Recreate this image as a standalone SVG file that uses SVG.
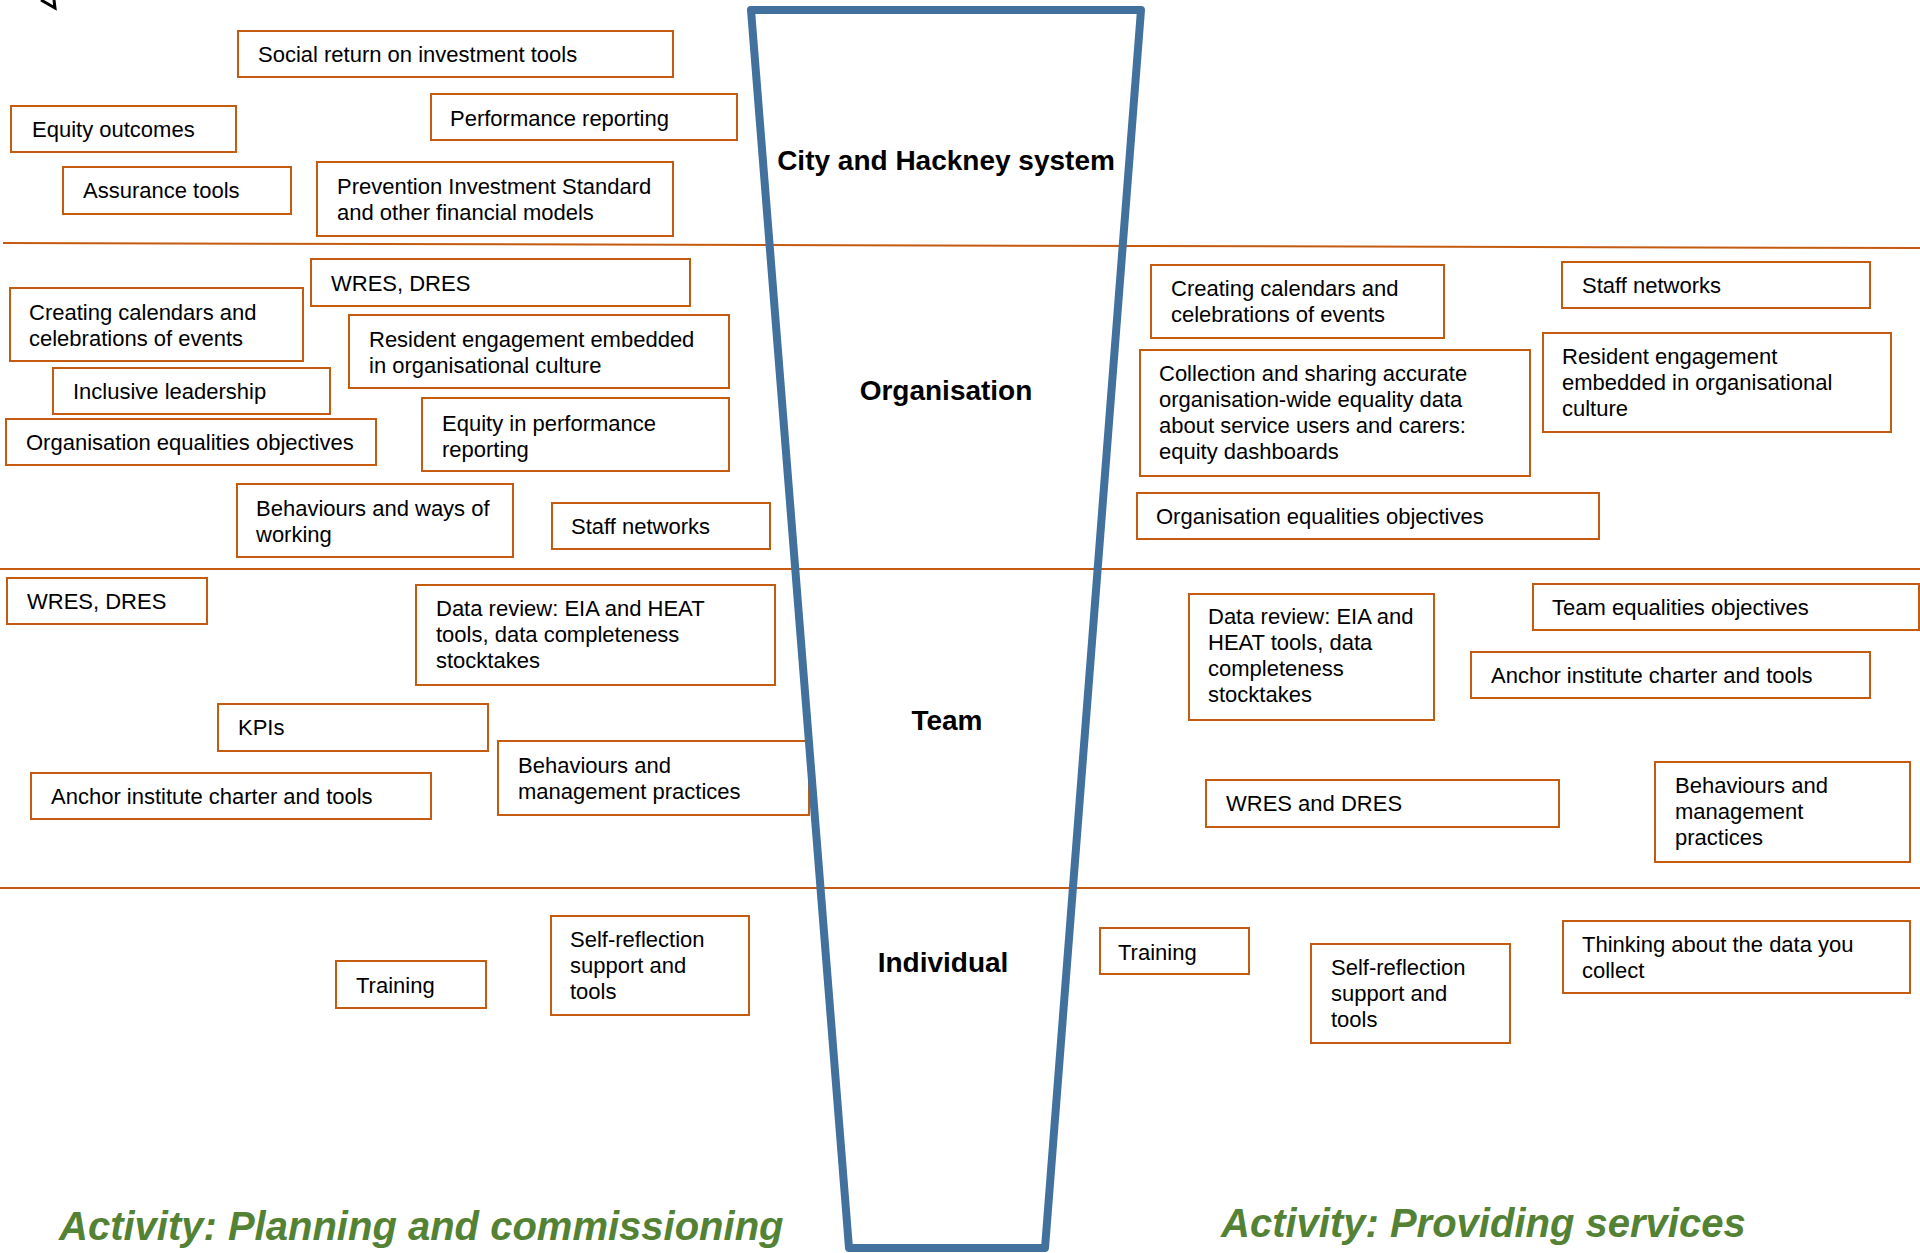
<svg xmlns="http://www.w3.org/2000/svg" width="1920" height="1253" viewBox="0 0 1920 1253">
<style>
.bg{fill:#ffffff}
.box{fill:#ffffff;stroke:#C55A11;stroke-width:2}
.t{font-family:"Liberation Sans",Arial,sans-serif;font-size:22px;fill:#000000}
.lvl{font-family:"Liberation Sans",Arial,sans-serif;font-size:28px;font-weight:bold;fill:#000000;text-anchor:middle}
.act{font-family:"Liberation Sans",Arial,sans-serif;font-size:40px;font-weight:bold;font-style:italic;fill:#548235}
.sep{stroke:#C55A11;stroke-width:2;fill:none}
.funnel{fill:none;stroke:#41719C;stroke-width:8;stroke-linejoin:round}
</style>
<rect class="bg" x="0" y="0" width="1920" height="1253"/>
<path d="M41 0 L55 8 L54 0" fill="none" stroke="#000000" stroke-width="3"/>
<g id="connectors">
<line class="sep" x1="3" y1="243" x2="1920" y2="248"/>
<line class="sep" x1="0" y1="569" x2="1920" y2="569"/>
<line class="sep" x1="0" y1="888" x2="1920" y2="888"/>
</g>
<g id="n1"><rect class="box" x="238" y="31" width="435" height="46"/><text class="t" x="258" y="62">Social return on investment tools</text></g>
<g id="n2"><rect class="box" x="11" y="106" width="225" height="46"/><text class="t" x="32" y="137">Equity outcomes</text></g>
<g id="n3"><rect class="box" x="431" y="94" width="306" height="46"/><text class="t" x="450" y="126">Performance reporting</text></g>
<g id="n4"><rect class="box" x="63" y="167" width="228" height="47"/><text class="t" x="83" y="198">Assurance tools</text></g>
<g id="n5"><rect class="box" x="317" y="162" width="356" height="74"/><text class="t" x="337" y="194">Prevention Investment Standard<tspan x="337" dy="26">and other financial models</tspan></text></g>
<g id="n6"><rect class="box" x="311" y="259" width="379" height="47"/><text class="t" x="331" y="291">WRES, DRES</text></g>
<g id="n7"><rect class="box" x="10" y="288" width="293" height="73"/><text class="t" x="29" y="320">Creating calendars and<tspan x="29" dy="26">celebrations of events</tspan></text></g>
<g id="n8"><rect class="box" x="349" y="315" width="380" height="73"/><text class="t" x="369" y="347">Resident engagement embedded<tspan x="369" dy="26">in organisational culture</tspan></text></g>
<g id="n9"><rect class="box" x="53" y="368" width="277" height="46"/><text class="t" x="73" y="399">Inclusive leadership</text></g>
<g id="n10"><rect class="box" x="6" y="419" width="370" height="46"/><text class="t" x="26" y="450">Organisation equalities objectives</text></g>
<g id="n11"><rect class="box" x="422" y="398" width="307" height="73"/><text class="t" x="442" y="431">Equity in performance<tspan x="442" dy="26">reporting</tspan></text></g>
<g id="n12"><rect class="box" x="237" y="484" width="276" height="73"/><text class="t" x="256" y="516">Behaviours and ways of<tspan x="256" dy="26">working</tspan></text></g>
<g id="n13"><rect class="box" x="552" y="503" width="218" height="46"/><text class="t" x="571" y="534">Staff networks</text></g>
<g id="n14"><rect class="box" x="1151" y="265" width="293" height="73"/><text class="t" x="1171" y="296">Creating calendars and<tspan x="1171" dy="26">celebrations of events</tspan></text></g>
<g id="n15"><rect class="box" x="1562" y="262" width="308" height="46"/><text class="t" x="1582" y="293">Staff networks</text></g>
<g id="n16"><rect class="box" x="1140" y="350" width="390" height="126"/><text class="t" x="1159" y="381">Collection and sharing accurate<tspan x="1159" dy="26">organisation-wide equality data</tspan><tspan x="1159" dy="26">about service users and carers:</tspan><tspan x="1159" dy="26">equity dashboards</tspan></text></g>
<g id="n17"><rect class="box" x="1543" y="333" width="348" height="99"/><text class="t" x="1562" y="364">Resident engagement<tspan x="1562" dy="26">embedded in organisational</tspan><tspan x="1562" dy="26">culture</tspan></text></g>
<g id="n18"><rect class="box" x="1137" y="493" width="462" height="46"/><text class="t" x="1156" y="524">Organisation equalities objectives</text></g>
<g id="n19"><rect class="box" x="7" y="578" width="200" height="46"/><text class="t" x="27" y="609">WRES, DRES</text></g>
<g id="n20"><rect class="box" x="416" y="585" width="359" height="100"/><text class="t" x="436" y="616">Data review: EIA and HEAT<tspan x="436" dy="26">tools, data completeness</tspan><tspan x="436" dy="26">stocktakes</tspan></text></g>
<g id="n21"><rect class="box" x="218" y="704" width="270" height="47"/><text class="t" x="238" y="735">KPIs</text></g>
<g id="n22"><rect class="box" x="31" y="773" width="400" height="46"/><text class="t" x="51" y="804">Anchor institute charter and tools</text></g>
<g id="n23"><rect class="box" x="498" y="741" width="311" height="74"/><text class="t" x="518" y="773">Behaviours and<tspan x="518" dy="26">management practices</tspan></text></g>
<g id="n24"><rect class="box" x="1189" y="594" width="245" height="126"/><text class="t" x="1208" y="624">Data review: EIA and<tspan x="1208" dy="26">HEAT tools, data</tspan><tspan x="1208" dy="26">completeness</tspan><tspan x="1208" dy="26">stocktakes</tspan></text></g>
<g id="n25"><rect class="box" x="1533" y="584" width="386" height="46"/><text class="t" x="1552" y="615">Team equalities objectives</text></g>
<g id="n26"><rect class="box" x="1471" y="652" width="399" height="46"/><text class="t" x="1491" y="683">Anchor institute charter and tools</text></g>
<g id="n27"><rect class="box" x="1206" y="780" width="353" height="47"/><text class="t" x="1226" y="811">WRES and DRES</text></g>
<g id="n28"><rect class="box" x="1655" y="762" width="255" height="100"/><text class="t" x="1675" y="793">Behaviours and<tspan x="1675" dy="26">management</tspan><tspan x="1675" dy="26">practices</tspan></text></g>
<g id="n29"><rect class="box" x="336" y="961" width="150" height="47"/><text class="t" x="356" y="993">Training</text></g>
<g id="n30"><rect class="box" x="551" y="916" width="198" height="99"/><text class="t" x="570" y="947">Self-reflection<tspan x="570" dy="26">support and</tspan><tspan x="570" dy="26">tools</tspan></text></g>
<g id="n31"><rect class="box" x="1100" y="928" width="149" height="46"/><text class="t" x="1118" y="960">Training</text></g>
<g id="n32"><rect class="box" x="1311" y="944" width="199" height="99"/><text class="t" x="1331" y="975">Self-reflection<tspan x="1331" dy="26">support and</tspan><tspan x="1331" dy="26">tools</tspan></text></g>
<g id="n33"><rect class="box" x="1563" y="921" width="347" height="72"/><text class="t" x="1582" y="952">Thinking about the data you<tspan x="1582" dy="26">collect</tspan></text></g>
<g id="funnel"><polygon class="funnel" points="751,10 1141,10 1045,1248 849,1248"/></g>
<g id="levels">
<text class="lvl" x="946" y="170">City and Hackney system</text>
<text class="lvl" x="946" y="400">Organisation</text>
<text class="lvl" x="947" y="730">Team</text>
<text class="lvl" x="943" y="972">Individual</text>
</g>
<g id="activities">
<text class="act" x="59" y="1240">Activity: Planning and commissioning</text>
<text class="act" x="1221" y="1237">Activity: Providing services</text>
</g>
</svg>
